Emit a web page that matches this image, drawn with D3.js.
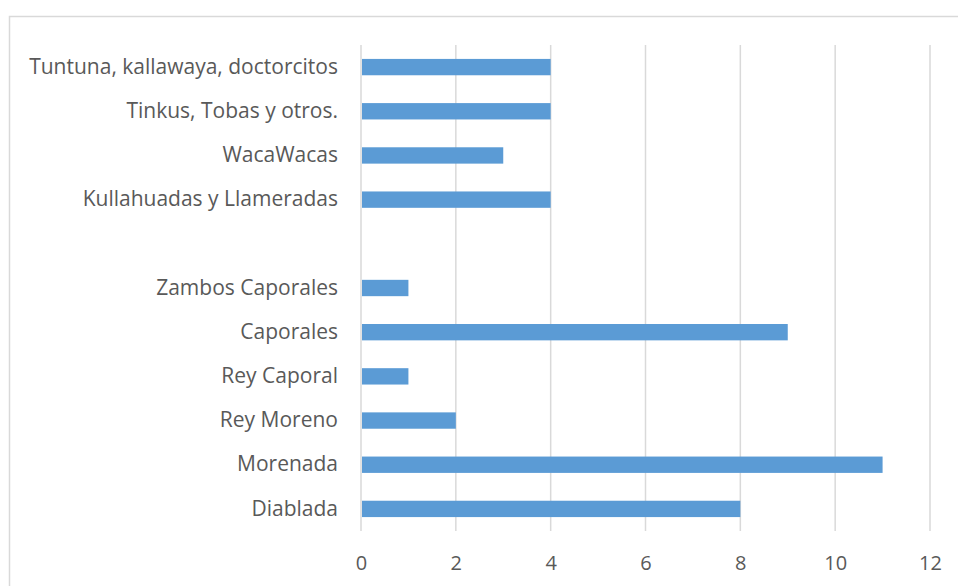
<!DOCTYPE html>
<html>
<head>
<meta charset="utf-8">
<script src="https://cdn.jsdelivr.net/npm/d3@7"></script>
<style>
  body { margin: 0; background: #fff; }
  text { font-family: "Open Sans", "Liberation Sans", sans-serif; fill: #595959; }
</style>
</head>
<body>
<div id="container"></div>
<script>
// categories top to bottom, blank row kept as in the source sheet
var categories = [
  "Tuntuna, kallawaya, doctorcitos",
  "Tinkus, Tobas y otros.",
  "WacaWacas",
  "Kullahuadas y Llameradas",
  "",
  "Zambos Caporales",
  "Caporales",
  "Rey Caporal",
  "Rey Moreno",
  "Morenada",
  "Diablada"
];
var values = [4, 4, 3, 4, null, 1, 9, 1, 2, 11, 8];
var tickValues = [0, 2, 4, 6, 8, 10, 12];

var width = 958, height = 586;

var svg = d3.select("#container").append("svg")
    .attr("width", width)
    .attr("height", height)

// chart frame
svg.append("rect")
    .attr("x", 9.5).attr("y", 16.5)
    .attr("width", 980).attr("height", 600)
    .attr("fill", "none")
    .attr("stroke", "#d9d9d9")
    .attr("stroke-width", 1.5)

var x = d3.scaleLinear().domain([0, 12]).range([361, 930]);
var y = d3.scaleBand()
    .domain(categories.map(function(d, i) { return i; }))
    .range([45, 531])
    .paddingInner(0.63)
    .paddingOuter(0.315);

var g = svg.append("g")

// vertical gridlines
g.selectAll("line.grid")
    .data(tickValues)
    .enter().append("line")
      .attr("class", "grid")
      .attr("x1", function(d) { return x(d); })
      .attr("x2", function(d) { return x(d); })
      .attr("y1", 45)
      .attr("y2", 531)
      .attr("stroke", "#d9d9d9")
      .attr("stroke-width", 1.5)

g.selectAll("rect.bar")
    .data(values.map(function(v, i) { return { i: i, v: v }; }).filter(function(d) { return d.v != null; }))
    .enter().append("rect")
      .attr("class", "bar")
      .attr("x", x(0) + 1)
      .attr("y", function(d) { return y(d.i); })
      .attr("width", function(d) { return x(d.v) - x(0) - 1; })
      .attr("height", y.bandwidth())
      .attr("fill", "#5b9bd5")

// category labels
var yAxis = d3.axisLeft(y).tickSize(0).tickPadding(23)
    .tickFormat(function(i) { return categories[i]; });
var ya = svg.append("g").attr("transform", "translate(361,0)").call(yAxis)
ya.select(".domain").remove()
ya.selectAll("text").attr("font-size", 21).attr("font-family", null)

// value axis labels
var xAxis = d3.axisBottom(x).tickValues(tickValues).tickSize(0).tickPadding(0)
var xa = svg.append("g").attr("transform", "translate(0,556)").call(xAxis)
xa.select(".domain").remove()
xa.selectAll("text").attr("font-size", 20).attr("font-family", null)
</script>
</body>
</html>
